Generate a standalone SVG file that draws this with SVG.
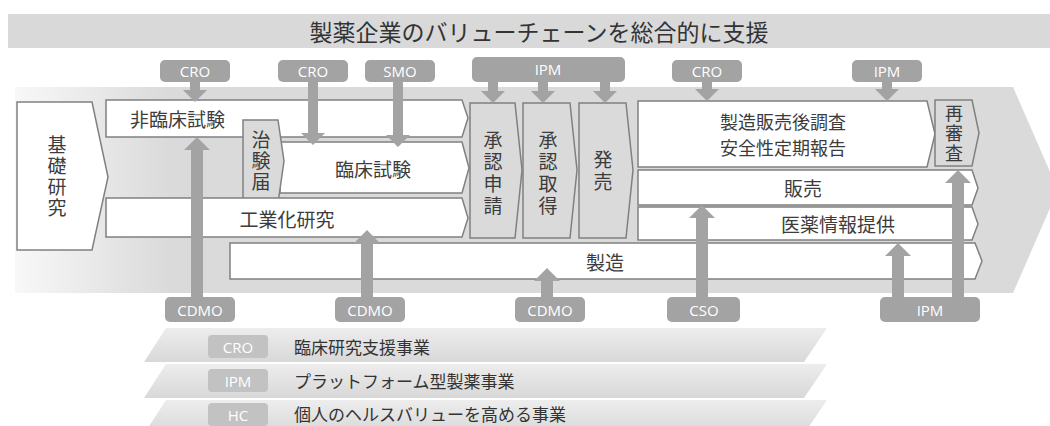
<svg xmlns="http://www.w3.org/2000/svg" width="1050" height="426" viewBox="0 0 1050 426">
<defs>
<linearGradient id="bg" x1="15" y1="0" x2="170" y2="0" gradientUnits="userSpaceOnUse"><stop offset="0" stop-color="#f8f8f8"/><stop offset="1" stop-color="#dadada"/></linearGradient>
<linearGradient id="band" x1="0" y1="0" x2="0" y2="1"><stop offset="0" stop-color="#ededed"/><stop offset="1" stop-color="#d8d8d8"/></linearGradient>
</defs>
<style>
.box{fill:#fff;stroke:#808080;stroke-width:1.5}
.gbox{fill:#dadada;stroke:#808080;stroke-width:1.5}
.t{font-family:"Noto Sans CJK JP","Noto Sans CJK SC",sans-serif;fill:#3c3c3c;font-size:19px;text-anchor:middle;dominant-baseline:central}
.v{font-family:"Noto Sans CJK JP","Noto Sans CJK SC",sans-serif;fill:#3c3c3c;font-size:19px;text-anchor:middle;writing-mode:vertical-rl;letter-spacing:2px}
.lab{fill:#a3a3a3}
.llab{fill:#c2c2c2}
.lt{font-family:"Open Sans","Liberation Sans",sans-serif;fill:#fff;font-size:15px;text-anchor:middle;dominant-baseline:central}
.arr{fill:#a3a3a3}
.leg{font-family:"Noto Sans CJK JP","Noto Sans CJK SC",sans-serif;fill:#333;font-size:17px;dominant-baseline:central}
</style>

<g id="title">
<rect x="8" y="14" width="1042" height="34" fill="#d9d9d9"/>
<text x="539" y="31" class="t" style="font-size:23px;fill:#333">製薬企業のバリューチェーンを総合的に支援</text>
</g>

<g id="background-arrow">
<polygon points="15,87 1013,87 1058,190 1013,293 15,293" fill="url(#bg)"/>
</g>

<g id="kiso">
<path class="box" d="M17,102 H92 L108,177 L92,250 H17 Z"/>
<text class="v" x="57" y="177">基礎研究</text>
</g>

<g id="hirinsho">
<path class="box" d="M106,100 H462 L468,118 L462,137 H106 Z"/>
<text class="t" x="130" y="118" style="text-anchor:start">非臨床試験</text>
</g>

<g id="rinsho">
<path class="box" d="M280,142 H462 L469,168 L462,193 H280 Z"/>
<text class="t" x="373" y="168">臨床試験</text>
</g>

<g id="chiken">
<path class="gbox" d="M243,120 H278 L284,161 L278,203 H243 Z"/>
<text class="v" x="261" y="162">治験届</text>
</g>

<g id="kogyoka">
<path class="box" d="M106,198 H462 L468,218 L462,237 H106 Z"/>
<text class="t" x="287" y="218">工業化研究</text>
</g>

<g id="seizo">
<path class="box" d="M230,243 H975 L982,261 L975,279 H230 Z"/>
<text class="t" x="605" y="261">製造</text>
</g>

<g id="shonin-shinsei">
<path class="gbox" d="M470,103 H515 L522,170 L515,238 H470 Z"/>
<text class="v" x="493" y="174" style="letter-spacing:3px">承認申請</text>
</g>

<g id="shonin-shutoku">
<path class="gbox" d="M523,103 H570 L577,170 L570,238 H523 Z"/>
<text class="v" x="548" y="174" style="letter-spacing:3px">承認取得</text>
</g>

<g id="hatsubai">
<path class="gbox" d="M579,103 H626 L633,170 L626,238 H579 Z"/>
<text class="v" x="603" y="172" style="letter-spacing:3px">発売</text>
</g>

<g id="shihango">
<path class="box" d="M638,101 H927 L935,134 L927,167 H638 Z"/>
<text class="t" style="font-size:18px" x="783" y="121">製造販売後調査</text>
<text class="t" style="font-size:18px" x="783" y="147">安全性定期報告</text>
</g>

<g id="saishinsa">
<path class="gbox" d="M935,100 H972 L979,133 L972,166 H935 Z"/>
<text class="v" x="954" y="134" style="font-size:18px">再審査</text>
</g>

<g id="hanbai">
<path class="box" d="M638,170 H972 L978,188 L972,205 H638 Z"/>
<text class="t" x="803" y="187">販売</text>
</g>

<g id="iyaku">
<path class="box" d="M638,207 H972 L978,224 L972,240 H638 Z"/>
<text class="t" x="838" y="223">医薬情報提供</text>
</g>

<g id="connectors">
<polygon class="arr" points="190,82 200,82 200,90 207,90 195,102 183,90 190,90"/>
<polygon class="arr" points="308,82 318,82 318,133 325,133 313,145 301,133 308,133"/>
<polygon class="arr" points="393,82 403,82 403,135 410,135 398,147 386,135 393,135"/>
<polygon class="arr" points="488,82 498,82 498,91 505,91 493,103 481,91 488,91"/>
<polygon class="arr" points="538,82 548,82 548,91 555,91 543,103 531,91 538,91"/>
<polygon class="arr" points="600,82 610,82 610,91 617,91 605,103 593,91 600,91"/>
<polygon class="arr" points="702,82 712,82 712,89 719,89 707,101 695,89 702,89"/>
<polygon class="arr" points="882,82 892,82 892,89 899,89 887,101 875,89 882,89"/>
<polygon class="arr" points="191,298 203,298 203,150 210,150 197,137 184,150 191,150"/>
<polygon class="arr" points="361,298 373,298 373,243 380,243 367,230 354,243 361,243"/>
<polygon class="arr" points="541,298 553,298 553,281 560,281 547,268 534,281 541,281"/>
<polygon class="arr" points="696,298 708,298 708,218 715,218 702,205 689,218 696,218"/>
<polygon class="arr" points="892,298 904,298 904,256 911,256 898,243 885,256 892,256"/>
<polygon class="arr" points="952,298 964,298 964,183 971,183 958,170 945,183 952,183"/>
</g>

<g id="top-cro1"><rect class="lab" x="160" y="60" width="70" height="22" rx="5"/><text class="lt" x="195" y="71">CRO</text></g>
<g id="top-cro2"><rect class="lab" x="278" y="60" width="70" height="22" rx="5"/><text class="lt" x="313" y="71">CRO</text></g>
<g id="top-smo"><rect class="lab" x="365" y="60" width="70" height="22" rx="5"/><text class="lt" x="400" y="71">SMO</text></g>
<g id="top-ipm1"><rect class="lab" x="472" y="57" width="153" height="25" rx="5"/><text class="lt" x="548" y="69">IPM</text></g>
<g id="top-cro3"><rect class="lab" x="672" y="60" width="70" height="22" rx="5"/><text class="lt" x="707" y="71">CRO</text></g>
<g id="top-ipm2"><rect class="lab" x="852" y="60" width="70" height="22" rx="5"/><text class="lt" x="887" y="71">IPM</text></g>

<g id="bot-cdmo1"><rect class="lab" x="165" y="297" width="70" height="25" rx="5"/><text class="lt" x="200" y="310">CDMO</text></g>
<g id="bot-cdmo2"><rect class="lab" x="335" y="297" width="70" height="25" rx="5"/><text class="lt" x="370" y="310">CDMO</text></g>
<g id="bot-cdmo3"><rect class="lab" x="515" y="297" width="70" height="25" rx="5"/><text class="lt" x="550" y="310">CDMO</text></g>
<g id="bot-cso"><rect class="lab" x="667" y="297" width="73" height="25" rx="5"/><text class="lt" x="704" y="310">CSO</text></g>
<g id="bot-ipm"><rect class="lab" x="880" y="297" width="100" height="25" rx="5"/><text class="lt" x="930" y="310">IPM</text></g>

<g id="legend-cro">
<polygon points="166,328 827,328 804,362 144,362" fill="url(#band)"/>
<rect class="llab" x="208" y="335" width="60" height="23" rx="4"/><text class="lt" x="238" y="346.5">CRO</text>
<text class="leg" x="294" y="346">臨床研究支援事業</text>
</g>
<g id="legend-ipm">
<polygon points="166,364 827,364 804,398 144,398" fill="url(#band)"/>
<rect class="llab" x="208" y="369" width="60" height="23" rx="4"/><text class="lt" x="238" y="380.5">IPM</text>
<text class="leg" x="294" y="380">プラットフォーム型製薬事業</text>
</g>
<g id="legend-hc">
<polygon points="166,400 827,400 804,434 144,434" fill="url(#band)"/>
<rect class="llab" x="208" y="403" width="60" height="23" rx="4"/><text class="lt" x="238" y="414.5">HC</text>
<text class="leg" x="294" y="413">個人のヘルスバリューを高める事業</text>
</g>
</svg>
